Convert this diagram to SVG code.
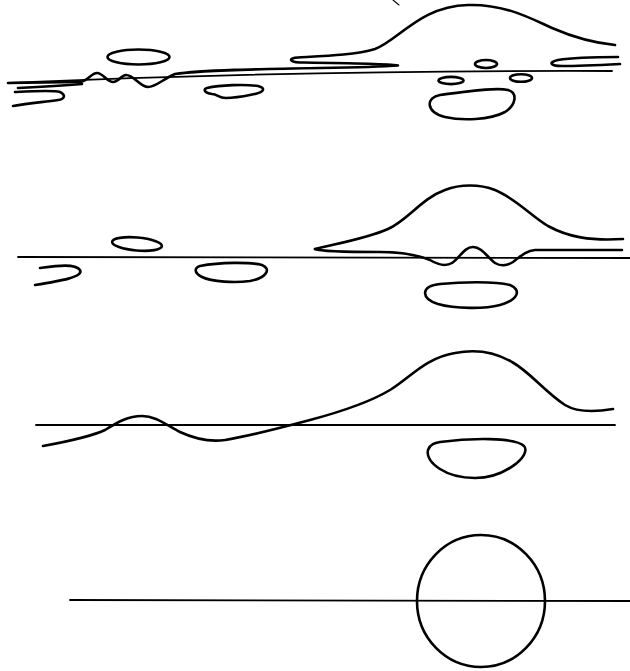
<svg xmlns="http://www.w3.org/2000/svg" width="630" height="671" viewBox="0 0 630 671">
<style>
.c{fill:none;stroke:#000;stroke-width:2.6;stroke-linecap:round;stroke-linejoin:round}
.l{fill:none;stroke:#000;stroke-width:1.8;stroke-linecap:round}
.t{fill:none;stroke:#000;stroke-width:1.1;stroke-linecap:round}
</style>
<rect width="630" height="671" fill="#fff"/>
<g id="panel1">
<path class="l" d="M8,83 Q300,70 612,71"/>
<path class="c" d="M8,83 L80,82 C88,81 91,73 97,73 C103,73 107,82 113,82 C119,82 121,75 126,75 C134,75 140,87 148,87 C156,87 163,79 175,74 C200,70 260,69 320,68 C350,67.5 385,66.5 398,65.5 C385,63.5 340,63 300,62.5 C289,62 288,58 298,57.5 C325,56 355,55 375,49 C398,41 420,6 468,5 C505,4 530,18 552,28 C575,38 595,43 615,45"/>
<path class="c" d="M18,88 C40,87 60,86 82,84"/>
<path class="c" d="M15,92 C35,91 54,90 60,92 C66,95 65,99 58,100 C45,102 30,103 13,106"/>
<ellipse class="c" cx="138.5" cy="57" rx="31" ry="7.5"/>
<path class="c" d="M207,88 C220,85 245,84 258,86 C266,88 264,92 255,94 C245,96 237,98 226,98 C218,98 218,94 212,94 C204,93 203,89 207,88Z"/>
<ellipse class="c" cx="486" cy="64" rx="11" ry="4"/>
<ellipse class="c" cx="451" cy="80.5" rx="12.5" ry="3.6"/>
<ellipse class="c" cx="521" cy="78" rx="11" ry="3.8"/>
<path class="c" d="M440,95 C465,92 495,87 508,90 C518,93 516,105 505,112 C490,120 462,121 445,117 C425,112 426,97 440,95Z"/>
<path class="c" d="M618,57 C595,57 570,58 558,60 C548,62 550,66 562,66 C580,66 600,65 620,64"/>
<path class="t" d="M393,0 L399,5"/>
</g>
<g id="panel2">
<path class="l" d="M18,257 L630,258"/>
<path class="c" d="M40,268 C55,266 75,263 80,270 C84,277 60,281 35,285"/>
<ellipse class="c" cx="137" cy="244" rx="25" ry="6.5" transform="rotate(5 137 244)"/>
<path class="c" d="M200,266 C220,262 250,262 262,265 C272,269 266,278 250,281 C235,283 212,282 202,277 C194,273 194,268 200,266Z"/>
<path class="c" d="M315,249 C340,243 368,238 388,229 C408,220 422,198 445,190 C460,184 480,184 495,190 C515,198 530,215 548,226 C568,237 590,241 623,239"/>
<path class="c" d="M315,249 C322,252 350,252 380,252 C400,252 415,254 430,260 C440,266 447,266 452,263 C460,258 464,247 473,247 C482,247 488,258 495,263 C500,266 507,266 513,262 C520,257 525,251 535,250 L622,250"/>
<path class="c" d="M440,284 C460,282 495,281 510,285 C522,290 518,300 500,305 C485,309 455,309 438,304 C420,298 421,286 440,284Z"/>
</g>
<g id="panel3">
<path class="l" d="M36,425 L615,425"/>
<path class="c" d="M43,446 C65,442 90,437 105,430 C118,422 128,416 142,416 C156,416 166,425 180,432 C195,439 210,442 225,440 C250,436 280,428 310,420 C340,412 370,402 390,390 C410,378 425,358 455,353 C475,349 495,352 512,362 C530,372 545,392 565,405 C575,411 590,413 613,409"/>
<path class="c" d="M440,442 C470,438 515,437 524,446 C532,455 505,478 475,478 C445,478 425,462 428,450 C430,444 435,443 440,442Z"/>
</g>
<g id="panel4">
<path class="l" d="M70,600 L630,601"/>
<ellipse class="c" cx="481" cy="601" rx="64" ry="66"/>
</g>
</svg>
